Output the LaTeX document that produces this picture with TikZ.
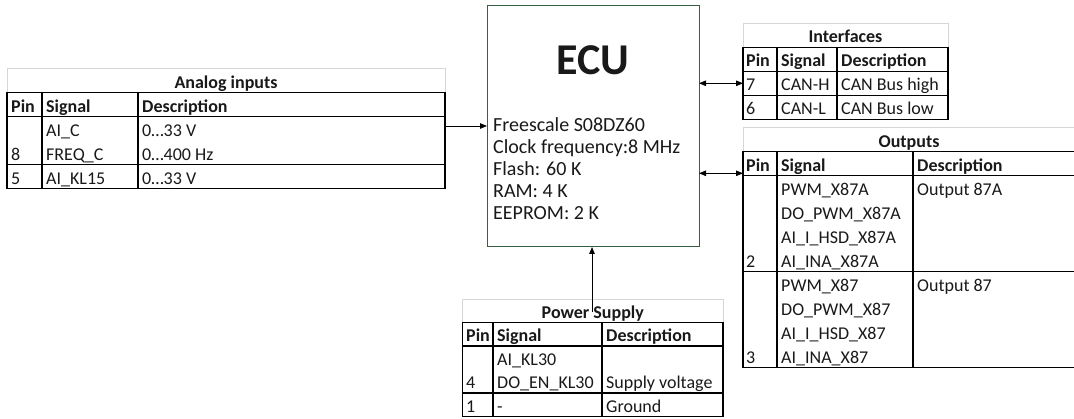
\documentclass[tikz,border=0pt]{standalone}
\usepackage{fontspec}
\setmainfont{Carlito}
\usetikzlibrary{arrows.meta}
\definecolor{ecugreen}{RGB}{56,96,66}
\newcommand{\tabfont}{\fontsize{18}{22}\selectfont}
\newcommand{\ecufont}{\fontsize{20}{24}\selectfont}
\begin{document}
\begin{tikzpicture}[x=1pt,y=-1pt,
  gridline/.style={line width=1.4pt, black},
  titlebox/.style={draw=black!16, line width=1pt},
  txt/.style={anchor=base west, inner sep=0pt, font=\tabfont, text=black!90},
  hdr/.style={txt, font=\tabfont\bfseries},
  ttl/.style={anchor=base, inner sep=0pt, font=\tabfont\bfseries, text=black!90},
  etxt/.style={anchor=base west, inner sep=0pt, font=\ecufont, text=black!90},
  frame/.style={draw, gridline, anchor=north west, inner sep=0pt, outer sep=0pt},
  arr/.style={line width=0.9pt, -{Triangle[length=7pt,width=5.5pt]}},
  darr/.style={line width=0.9pt, {Triangle[length=7pt,width=5.5pt]}-{Triangle[length=7pt,width=5.5pt]}},
]
\useasboundingbox (0,0) rectangle (1074,419);

% ECU
\node[draw=ecugreen, line width=1pt, minimum width=212pt, minimum height=241pt, anchor=north west, inner sep=0pt, outer sep=0pt] (ecu) at (487,6) {};
\node[anchor=base, inner sep=0pt, font=\fontsize{44}{50}\selectfont\bfseries, text=black!90] (ecut) at (593,75) {ECU};
\node[etxt] (e1) at (493,131.5) {Freescale S08DZ60};
\node[etxt] (e2) at (493,153.5) {Clock frequency:8 MHz};
\node[etxt] (e3) at (493,175.5) {Flash: 60 K};
\node[etxt] (e4) at (493,197.5) {RAM: 4 K};
\node[etxt] (e5) at (493,219.5) {EEPROM: 2 K};

% Analog inputs
\draw[titlebox] (7,68.7) rectangle (445,92.7);
\node[frame, minimum width=438pt, minimum height=96pt] (ana) at (7,92.7) {};
\draw[gridline] (7,116.7) -- (445,116.7) (7,164.7) -- (445,164.7)
  (42,92.7) -- (42,188.7) (138,92.7) -- (138,188.7);
\node[ttl] (an-t) at (226,88.2) {Analog inputs};
\node[hdr] (an-h1) at (11,112.2) {Pin};
\node[hdr] (an-h2) at (46,112.2) {Signal};
\node[hdr] (an-h3) at (142,112.2) {Description};
\node[txt] (an-s1) at (46,136.2) {AI\_C};
\node[txt] (an-d1) at (142,136.2) {0…33 V};
\node[txt] (an-p2) at (11,160.2) {8};
\node[txt] (an-s2) at (46,160.2) {FREQ\_C};
\node[txt] (an-d2) at (142,160.2) {0…400 Hz};
\node[txt] (an-p3) at (11,184.2) {5};
\node[txt] (an-s3) at (46,184.2) {AI\_KL15};
\node[txt] (an-d3) at (142,184.2) {0…33 V};

% Interfaces
\draw[titlebox] (743,23.3) rectangle (948,47.3);
\node[frame, minimum width=205pt, minimum height=72pt] (intf) at (743,47.3) {};
\draw[gridline] (743,71.3) -- (948,71.3) (743,95.3) -- (948,95.3)
  (777,47.3) -- (777,119.3) (837,47.3) -- (837,119.3);
\node[ttl] (if-t) at (845.5,42.8) {Interfaces};
\node[hdr] (if-h1) at (746,66.8) {Pin};
\node[hdr] (if-h2) at (781,66.8) {Signal};
\node[hdr] (if-h3) at (841,66.8) {Description};
\node[txt] (if-p1) at (746,90.8) {7};
\node[txt] (if-s1) at (781,90.8) {CAN-H};
\node[txt] (if-d1) at (841,90.8) {CAN Bus high};
\node[txt] (if-p2) at (746,114.8) {6};
\node[txt] (if-s2) at (781,114.8) {CAN-L};
\node[txt] (if-d2) at (841,114.8) {CAN Bus low};

% Outputs
\draw[titlebox] (1074,127.7) -- (743,127.7) -- (743,151.7);
\node[anchor=north west, minimum width=331pt, minimum height=216pt, inner sep=0pt, outer sep=0pt] (outp) at (743,151.7) {};
\draw[gridline] (1074,151.7) -- (743,151.7) -- (743,367.7) -- (1074,367.7)
  (743,175.7) -- (1074,175.7) (743,271.7) -- (1074,271.7)
  (777,151.7) -- (777,367.7) (913,151.7) -- (913,367.7);
\node[ttl] (op-t) at (909,147.2) {Outputs};
\node[hdr] (op-h1) at (746,171.2) {Pin};
\node[hdr] (op-h2) at (781,171.2) {Signal};
\node[hdr] (op-h3) at (917,171.2) {Description};
\node[txt] (op-s1) at (781,195.2) {PWM\_X87A};
\node[txt] (op-d1) at (917,195.2) {Output 87A};
\node[txt] (op-s2) at (781,219.2) {DO\_PWM\_X87A};
\node[txt] (op-s3) at (781,243.2) {AI\_I\_HSD\_X87A};
\node[txt] (op-p4) at (746,267.2) {2};
\node[txt] (op-s4) at (781,267.2) {AI\_INA\_X87A};
\node[txt] (op-s5) at (781,291.2) {PWM\_X87};
\node[txt] (op-d5) at (917,291.2) {Output 87};
\node[txt] (op-s6) at (781,315.2) {DO\_PWM\_X87};
\node[txt] (op-s7) at (781,339.2) {AI\_I\_HSD\_X87};
\node[txt] (op-p8) at (746,363.2) {3};
\node[txt] (op-s8) at (781,363.2) {AI\_INA\_X87};

% Power Supply
\draw[titlebox] (462.7,299.2) rectangle (723,322.7);
\node[frame, minimum width=260.3pt, minimum height=94pt] (pwr) at (462.7,322.7) {};
\draw[gridline] (462.7,346.2) -- (723,346.2) (462.7,393.2) -- (723,393.2)
  (493,322.7) -- (493,416.7) (602,322.7) -- (602,416.7);
\node[ttl] (pw-t) at (592.8,318.2) {Power Supply};
\node[hdr] (pw-h1) at (466,341.7) {Pin};
\node[hdr] (pw-h2) at (497,341.7) {Signal};
\node[hdr] (pw-h3) at (606,341.7) {Description};
\node[txt] (pw-s1) at (497,365.2) {AI\_KL30};
\node[txt] (pw-p2) at (466,388.7) {4};
\node[txt] (pw-s2) at (497,388.7) {DO\_EN\_KL30};
\node[txt] (pw-d2) at (606,388.7) {Supply voltage};
\node[txt] (pw-p3) at (466,412.2) {1};
\node[txt] (pw-s3) at (497,412.2) {-};
\node[txt] (pw-d3) at (606,412.2) {Ground};

% Connectors
\coordinate (anout) at (445,126);
\draw[arr] (anout) -- (anout -| ecu.west);
\coordinate (ifa) at (699,83.3);
\draw[darr] (ecu.east |- ifa) -- (intf.west |- ifa);
\coordinate (opa) at (699,173.3);
\draw[darr] (ecu.east |- opa) -- (outp.west |- opa);
\coordinate (pwa) at (592,312);
\draw[arr] (pwa) -- (pwa |- ecu.south);
\end{tikzpicture}
\end{document}
